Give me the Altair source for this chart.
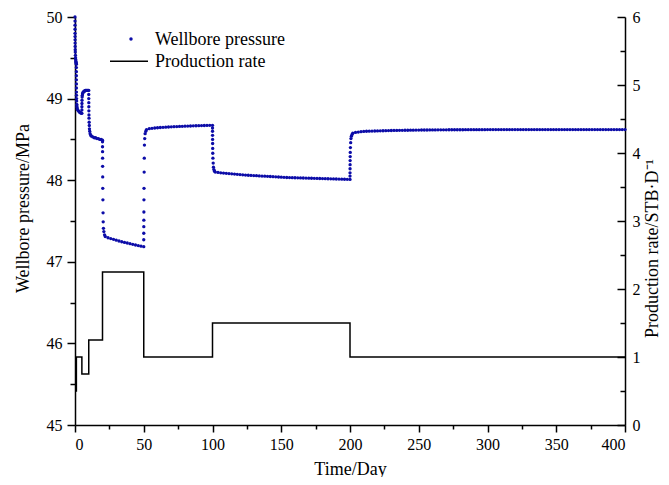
import altair as alt
import pandas as pd

# ---------------- data ----------------
# Wellbore pressure (MPa) vs time (day), one list pair per production period
t_p1 = [0, 0.002, 0.005, 0.01, 0.02, 0.03, 0.05, 0.07, 0.1, 0.15, 0.2, 0.3, 0.4, 0.5, 0.6, 0.7, 0.8, 0.9, 1.0]
p_p1 = [50.00, 49.95, 49.90, 49.85, 49.80, 49.76, 49.72, 49.68, 49.64, 49.60, 49.57, 49.53, 49.50, 49.48, 49.46, 49.45, 49.44, 49.43, 49.42]

t_p2 = [1.002, 1.005, 1.01, 1.02, 1.03, 1.05, 1.07, 1.1, 1.15, 1.2, 1.3, 1.4, 1.5, 1.7, 2.0, 2.5, 3.0, 3.5, 4.0, 4.5, 5.0]
p_p2 = [49.38, 49.33, 49.28, 49.23, 49.18, 49.13, 49.08, 49.04, 49.00, 48.97, 48.93, 48.91, 48.89, 48.87, 48.86, 48.85, 48.84, 48.83, 48.83, 48.82, 48.82]

t_p3 = [5.01, 5.02, 5.05, 5.1, 5.2, 5.3, 5.5, 5.7, 6.0, 6.5, 7.0, 7.5, 8.0, 8.5, 9.0, 9.5, 10.0]
p_p3 = [48.86, 48.90, 48.94, 48.98, 49.02, 49.04, 49.06, 49.07, 49.08, 49.09, 49.09, 49.10, 49.10, 49.10, 49.10, 49.10, 49.10]

t_p4 = [10.01, 10.02, 10.04, 10.07, 10.1, 10.15, 10.2, 10.3, 10.4, 10.5, 10.7, 11, 11.5, 12, 13, 14, 15, 16, 17, 18, 19, 20]
p_p4 = [49.05, 49.00, 48.95, 48.90, 48.85, 48.80, 48.76, 48.71, 48.67, 48.63, 48.60, 48.57, 48.55, 48.54, 48.53, 48.52, 48.52, 48.51, 48.51, 48.50, 48.50, 48.49]

t_p5 = [20.01, 20.02, 20.04, 20.07, 20.1, 20.15, 20.2, 20.3, 20.4, 20.5, 20.7, 21, 21.5, 22,
        24, 26, 28, 30, 32, 34, 36, 38, 40, 42, 44, 46, 48, 50]
p_p5 = [48.47, 48.41, 48.35, 48.27, 48.17, 48.04, 47.90, 47.76, 47.60, 47.49, 47.41, 47.37, 47.33, 47.31,
        47.295, 47.285, 47.275, 47.265, 47.255, 47.246, 47.238, 47.230, 47.222, 47.214, 47.206, 47.199, 47.192, 47.185]

t_p6 = [50.01, 50.02, 50.04, 50.07, 50.1, 50.15, 50.2, 50.3, 50.4, 50.5, 50.7, 51, 51.5, 52,
        54, 56, 58, 60, 62, 64, 66, 68, 70, 72, 74, 76, 78, 80, 82, 84, 86, 88, 90, 92, 94, 96, 98, 100]
p_p6 = [47.27, 47.35, 47.43, 47.51, 47.61, 47.76, 47.90, 48.10, 48.27, 48.43, 48.51, 48.57, 48.60, 48.62,
        48.632, 48.636, 48.640, 48.643, 48.646, 48.648, 48.650, 48.652, 48.654, 48.656, 48.657, 48.659,
        48.660, 48.662, 48.663, 48.664, 48.666, 48.667, 48.668, 48.669, 48.670, 48.671, 48.672, 48.673]

t_p7 = [100.01, 100.02, 100.04, 100.07, 100.1, 100.15, 100.2, 100.3, 100.5, 100.7, 101, 101.5, 102,
        104, 106, 108, 110, 112, 114, 116, 118, 120, 122, 124, 126, 128, 130, 132, 134, 136, 138, 140,
        142, 144, 146, 148, 150, 152, 154, 156, 158, 160, 162, 164, 166, 168, 170, 172, 174, 176, 178,
        180, 182, 184, 186, 188, 190, 192, 194, 196, 198, 200]
p_p7 = [48.64, 48.60, 48.55, 48.50, 48.45, 48.39, 48.33, 48.27, 48.21, 48.16, 48.13, 48.11, 48.10,
        48.095, 48.090, 48.087, 48.084, 48.081, 48.078, 48.075, 48.072, 48.069, 48.066, 48.063, 48.061,
        48.059, 48.057, 48.055, 48.053, 48.051, 48.049, 48.047, 48.045, 48.043, 48.041, 48.039, 48.037,
        48.035, 48.033, 48.032, 48.031, 48.030, 48.029, 48.028, 48.027, 48.026, 48.025, 48.024, 48.023,
        48.022, 48.021, 48.020, 48.019, 48.018, 48.017, 48.016, 48.015, 48.014, 48.013, 48.012, 48.011, 48.010]

t_p8 = [200.01, 200.02, 200.04, 200.07, 200.1, 200.15, 200.2, 200.3, 200.5, 200.7, 201, 201.5, 202,
        204, 206, 208, 210,
        212, 214, 216, 218, 220, 222, 224, 226, 228, 230,
        232, 234, 236, 238, 240, 242, 244, 246, 248, 250,
        252, 254, 256, 258, 260, 262, 264, 266, 268, 270,
        272, 274, 276, 278, 280, 282, 284, 286, 288, 290,
        292, 294, 296, 298, 300, 302, 304, 306, 308, 310,
        312, 314, 316, 318, 320, 322, 324, 326, 328, 330,
        332, 334, 336, 338, 340, 342, 344, 346, 348, 350,
        352, 354, 356, 358, 360, 362, 364, 366, 368, 370,
        372, 374, 376, 378, 380, 382, 384, 386, 388, 390,
        392, 394, 396, 398, 400]
p_p8 = [48.05, 48.09, 48.14, 48.19, 48.24, 48.29, 48.34, 48.40, 48.46, 48.51, 48.54, 48.56, 48.575,
        48.585, 48.590, 48.595, 48.598,
        48.600, 48.601, 48.602, 48.603, 48.604, 48.605, 48.606, 48.607, 48.608, 48.609,
        48.610, 48.610, 48.611, 48.611, 48.612, 48.612, 48.613, 48.613, 48.614, 48.614,
        48.615, 48.615, 48.615, 48.616, 48.616, 48.616, 48.617, 48.617, 48.617, 48.617,
        48.618, 48.618, 48.618, 48.618, 48.618, 48.618, 48.619, 48.619, 48.619, 48.619,
        48.619, 48.619, 48.619, 48.619, 48.620, 48.620, 48.620, 48.620, 48.620, 48.620,
        48.620, 48.620, 48.620, 48.620, 48.620, 48.620, 48.620, 48.620, 48.620, 48.620,
        48.620, 48.620, 48.620, 48.620, 48.620, 48.620, 48.620, 48.620, 48.620, 48.620,
        48.620, 48.620, 48.620, 48.620, 48.620, 48.620, 48.620, 48.620, 48.620, 48.620,
        48.620, 48.620, 48.620, 48.620, 48.620, 48.620, 48.620, 48.620, 48.620, 48.620,
        48.620, 48.620, 48.620, 48.620, 48.620]

# Production rate (STB/D) step schedule: value holds from each time to the next
rate_time = [0, 1, 5, 10, 20, 50, 100, 200, 400]
rate_value = [0.5, 1.0, 0.75, 1.25, 2.25, 1.0, 1.5, 1.0, 1.0]

# axis tick values
x_ticks = [0, 25, 50, 75, 100, 125, 150, 175, 200, 225, 250, 275, 300, 325, 350, 375, 400]
yl_ticks = [45, 45.5, 46, 46.5, 47, 47.5, 48, 48.5, 49, 49.5, 50]
yr_ticks = [0, 0.5, 1, 1.5, 2, 2.5, 3, 3.5, 4, 4.5, 5, 5.5, 6]

legend_labels = ["Wellbore pressure", "Production rate"]

# ---------------- build tables ----------------
times = t_p1 + t_p2 + t_p3 + t_p4 + t_p5 + t_p6 + t_p7 + t_p8
press = p_p1 + p_p2 + p_p3 + p_p4 + p_p5 + p_p6 + p_p7 + p_p8
pressure_df = pd.DataFrame({"t": times, "p": press})
rate_df = pd.DataFrame({"t": rate_time, "q": rate_value})
one = pd.DataFrame({"k": [0]})

FONT = "Liberation Serif"
BLUE = "#0c0ca8"

x_axis = alt.Axis(
    title="Time/Day",
    values=x_ticks,
    labelExpr="datum.value % 50 === 0 ? format(datum.value, 'd') : ''",
    tickSize={"condition": {"test": "datum.value % 50 !== 0", "value": 4}, "value": 7},
    labelPadding=4,
    titlePadding=8,
    grid=False,
)
x_enc = alt.X("t:Q", scale=alt.Scale(domain=[0, 400], nice=False), axis=x_axis)

points = alt.Chart(pressure_df).mark_circle(size=11, color=BLUE, opacity=1).encode(
    x=x_enc,
    y=alt.Y(
        "p:Q",
        scale=alt.Scale(domain=[45, 50], nice=False, zero=False),
        axis=alt.Axis(
            title="Wellbore pressure/MPa",
            values=yl_ticks,
            labelExpr="datum.value % 1 === 0 ? format(datum.value, 'd') : ''",
            tickSize={"condition": {"test": "datum.value % 1 !== 0", "value": 5}, "value": 8},
            labelPadding=5,
            titlePadding=14,
            titleY=191,
            grid=False,
        ),
    ),
)

rate_line = alt.Chart(rate_df).mark_line(interpolate="step-after", color="black", strokeWidth=1.5).encode(
    x=alt.X("t:Q", scale=alt.Scale(domain=[0, 400], nice=False), axis=x_axis),
    y=alt.Y(
        "q:Q",
        scale=alt.Scale(domain=[0, 6], nice=False),
        axis=alt.Axis(
            orient="right",
            title="Production rate/STB·D⁻¹",
            values=yr_ticks,
            labelExpr="datum.value % 1 === 0 ? format(datum.value, 'd') : ''",
            tickSize={"condition": {"test": "datum.value % 1 !== 0", "value": -5}, "value": -8},
            labelPadding=15,
            titlePadding=3,
            titleAngle=270,
            titleBaseline="top",
            titleY=231,
            grid=False,
        ),
    ),
)

leg_dot = alt.Chart(one).mark_circle(size=12, color=BLUE, opacity=1).encode(
    x=alt.value(56), y=alt.value(22)
)
leg_line = alt.Chart(one).mark_rule(color="black", strokeWidth=1.5).encode(
    x=alt.value(35), x2=alt.value(73), y=alt.value(44.3)
)
leg_t1 = alt.Chart(one).mark_text(
    text=legend_labels[0], align="left", baseline="middle", font=FONT, fontSize=18, color="black"
).encode(x=alt.value(80), y=alt.value(22.5))
leg_t2 = alt.Chart(one).mark_text(
    text=legend_labels[1], align="left", baseline="middle", font=FONT, fontSize=18, color="black"
).encode(x=alt.value(80), y=alt.value(44.8))

chart = (
    alt.layer(points, rate_line, leg_dot, leg_line, leg_t1, leg_t2)
    .resolve_scale(y="independent")
    .properties(
        width=550,
        height=408,
        autosize=alt.AutoSizeParams(type="none"),
        padding={"left": 67, "top": 9, "right": 36, "bottom": 52},
    )
    .configure_view(stroke=None)
    .configure_axis(
        labelFont=FONT,
        labelFontSize=16,
        labelColor="black",
        titleFont=FONT,
        titleFontSize=18,
        titleFontWeight="normal",
        titleColor="black",
        domainColor="black",
        domainWidth=1.5,
        tickColor="black",
        tickWidth=1.5,
    )
)

chart.save("out.html", embed_options={"renderer": "svg", "actions": False})
